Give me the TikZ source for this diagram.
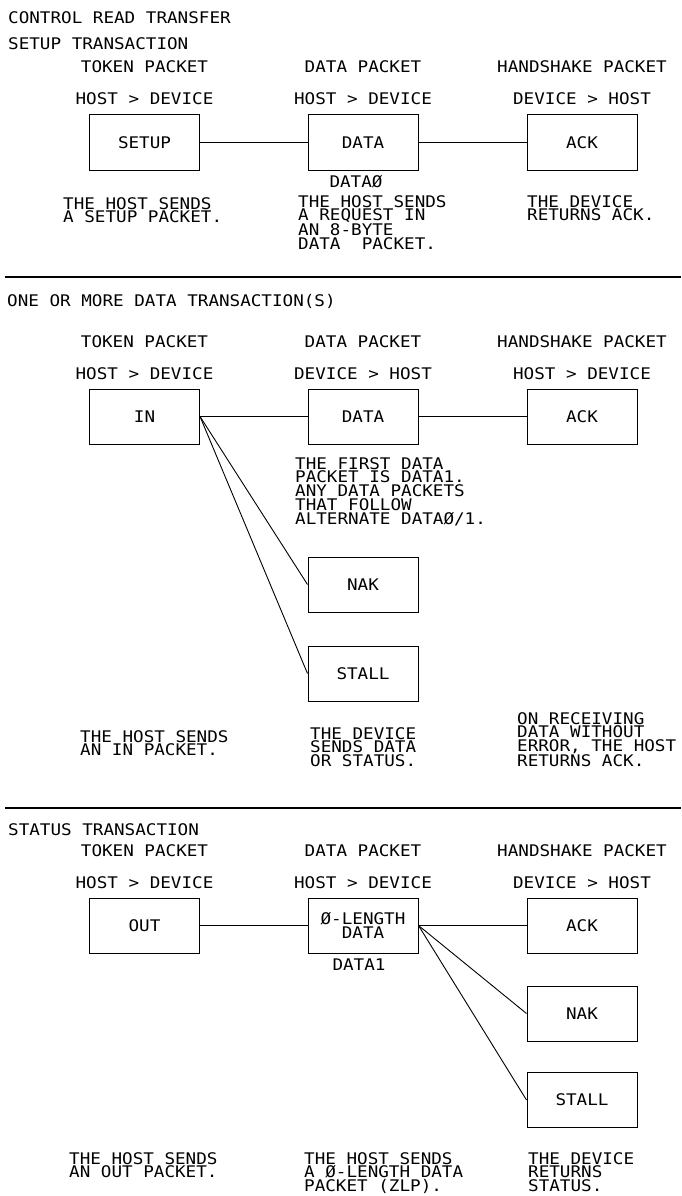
\documentclass[tikz,border=0pt]{standalone}
\usepackage{fontspec}
\setmonofont{DejaVu Sans Mono}[FakeStretch=1.1]
\newcommand{\cadfont}{\ttfamily\fontsize{16}{13.8}\selectfont}

\begin{document}
\begin{tikzpicture}[x=1pt, y=-1pt,
		every node/.style={font=\cadfont, inner sep=0pt},
		pkt/.style={draw, line width=1pt, minimum width=110pt, minimum height=55pt, align=center},
		note/.style={anchor=north west, align=left},
		hdr/.style={anchor=base},
		title/.style={anchor=base west},
		link/.style={line width=0.9pt},
		sep/.style={line width=1.2pt}]
				\useasboundingbox (0,0) rectangle (681,1196);
				\pgfmathsetmacro{\colA}{144.5}
				\pgfmathsetmacro{\colB}{363}
				\pgfmathsetmacro{\colC}{582}
				
				% setup transaction
				\node[title] (ttl) at (8,24) {CONTROL READ TRANSFER};
				\node[title] (ttlA) at (8,50) {SETUP TRANSACTION};
				\node[hdr] (hdrAa) at (\colA,73) {TOKEN PACKET};
				\node[hdr] (hdrAb) at (\colB,73) {DATA PACKET};
				\node[hdr] (hdrAc) at (\colC,73) {HANDSHAKE PACKET};
				\node[hdr] (dirAa) at (\colA,105) {HOST > DEVICE};
				\node[hdr] (dirAb) at (\colB,105) {HOST > DEVICE};
				\node[hdr] (dirAc) at (\colC,105) {DEVICE > HOST};
				\node[pkt] (setupA) at (\colA,142.5) {SETUP};
				\node[pkt] (dataA) at (\colB,142.5) {DATA};
				\node[pkt] (ackA) at (\colC,142.5) {ACK};
				\node[hdr] (pidA) at (356,187) {DATAØ};
				\node[note] (noteAa) at (63,197) {THE HOST SENDS\\A SETUP PACKET.};
				\node[note] (noteAb) at (298,195) {THE HOST SENDS\\A REQUEST IN\\AN 8-BYTE\\DATA\ \ PACKET.};
				\node[note] (noteAc) at (527,195) {THE DEVICE\\RETURNS ACK.};
				\draw[link] (setupA) -- (dataA);
				\draw[link] (dataA) -- (ackA);
				\draw[sep] (5,277) -- (681,277);
				
				% data transaction(s)
				\node[title] (ttlB) at (7,306) {ONE OR MORE DATA TRANSACTION(S)};
				\node[hdr] (hdrBa) at (\colA,347) {TOKEN PACKET};
				\node[hdr] (hdrBb) at (\colB,347) {DATA PACKET};
				\node[hdr] (hdrBc) at (\colC,347) {HANDSHAKE PACKET};
				\node[hdr] (dirBa) at (\colA,379) {HOST > DEVICE};
				\node[hdr] (dirBb) at (\colB,379) {DEVICE > HOST};
				\node[hdr] (dirBc) at (\colC,379) {HOST > DEVICE};
				\node[pkt] (inB) at (\colA,416.5) {IN};
				\node[pkt] (dataB) at (\colB,416.5) {DATA};
				\node[pkt] (ackB) at (\colC,416.5) {ACK};
				\node[pkt] (nakB) at (\colB,584.5) {NAK};
				\node[pkt] (stallB) at (\colB,673.5) {STALL};
				\node[note] (noteBd) at (295,457) {THE FIRST DATA\\PACKET IS DATA1.\\ANY DATA PACKETS\\THAT FOLLOW\\ALTERNATE DATAØ/1.};
				\node[note] (noteBa) at (80,730) {THE HOST SENDS\\AN IN PACKET.};
				\node[note] (noteBb) at (310,727) {THE DEVICE\\SENDS DATA\\OR STATUS.};
				\node[note] (noteBc) at (517,712) {ON RECEIVING\\DATA WITHOUT\\ERROR, THE HOST\\RETURNS ACK.};
				\draw[link] (inB) -- (dataB);
				\draw[link] (dataB) -- (ackB);
				\draw[link] (inB.east) -- (nakB.west);
				\draw[link] (inB.east) -- (stallB.west);
				\draw[sep] (5,808) -- (681,808);
				
				% status transaction
				\node[title] (ttlC) at (8,835) {STATUS TRANSACTION};
				\node[hdr] (hdrCa) at (\colA,856) {TOKEN PACKET};
				\node[hdr] (hdrCb) at (\colB,856) {DATA PACKET};
				\node[hdr] (hdrCc) at (\colC,856) {HANDSHAKE PACKET};
				\node[hdr] (dirCa) at (\colA,888) {HOST > DEVICE};
				\node[hdr] (dirCb) at (\colB,888) {HOST > DEVICE};
				\node[hdr] (dirCc) at (\colC,888) {DEVICE > HOST};
				\node[pkt] (outC) at (\colA,925.5) {OUT};
				\node[pkt] (zlpC) at (\colB,925.5) {Ø-LENGTH\\DATA};
				\node[pkt] (ackC) at (\colC,925.5) {ACK};
				\node[pkt] (nakC) at (\colC,1013.5) {NAK};
				\node[pkt] (stallC) at (\colC,1100) {STALL};
				\node[hdr] (pidC) at (359,970) {DATA1};
				\node[note] (noteCa) at (69,1152) {THE HOST SENDS\\AN OUT PACKET.};
				\node[note] (noteCb) at (304,1152) {THE HOST SENDS\\A Ø-LENGTH DATA\\PACKET (ZLP).};
				\node[note] (noteCc) at (528,1152) {THE DEVICE\\RETURNS\\STATUS.};
				\draw[link] (outC) -- (zlpC);
				\draw[link] (zlpC) -- (ackC);
				\draw[link] (zlpC.east) -- (nakC.west);
				\draw[link] (zlpC.east) -- (stallC.west);
\end{tikzpicture}
\end{document}
